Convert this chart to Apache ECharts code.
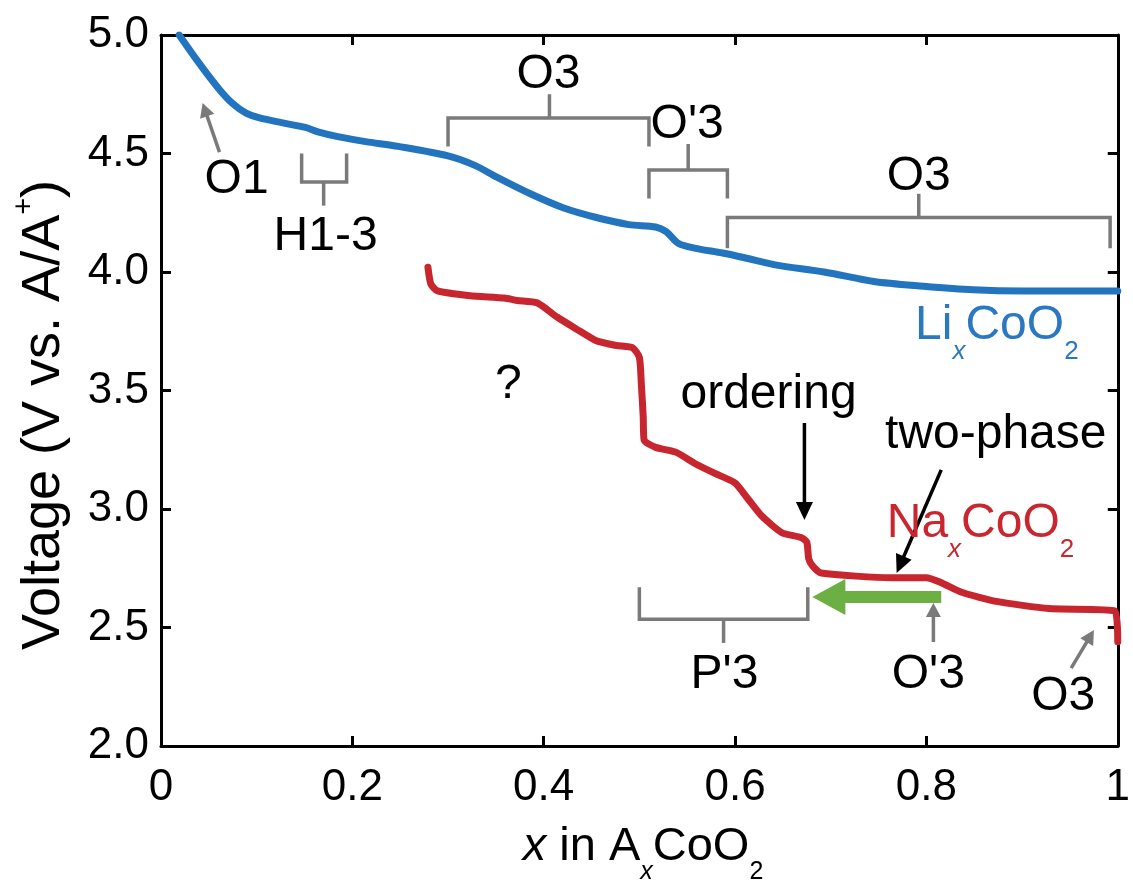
<!DOCTYPE html>
<html>
<head>
<meta charset="utf-8">
<script src="https://cdn.jsdelivr.net/npm/echarts@6/dist/echarts.min.js"></script>
<style>
  html, body { margin: 0; padding: 0; background: #fff; }
  #chart { width: 1133px; height: 881px; }
</style>
</head>
<body>
<div id="chart"></div>
<script>
// ---- charge curves: x in A_xCoO2 vs voltage (V vs. A/A+) ----
const liX = [0.019, 0.040, 0.061, 0.075, 0.089, 0.103, 0.126, 0.151, 0.165, 0.186, 0.214, 0.248, 0.300, 0.328, 0.351, 0.386, 0.421, 0.455, 0.489, 0.517, 0.528, 0.541, 0.559, 0.587, 0.610, 0.642, 0.693, 0.745, 0.797, 0.849, 0.901, 0.952, 1.000];
const liV = [5.00, 4.88, 4.77, 4.71, 4.67, 4.65, 4.63, 4.61, 4.59, 4.57, 4.55, 4.53, 4.49, 4.45, 4.40, 4.33, 4.27, 4.23, 4.20, 4.19, 4.17, 4.12, 4.10, 4.08, 4.06, 4.03, 4.00, 3.96, 3.94, 3.925, 3.92, 3.92, 3.92];

const naX = [0.279, 0.282, 0.289, 0.323, 0.359, 0.372, 0.393, 0.414, 0.434, 0.455, 0.476, 0.493, 0.500, 0.502, 0.504, 0.505, 0.517, 0.538, 0.559, 0.579, 0.600, 0.614, 0.628, 0.649, 0.669, 0.675, 0.677, 0.681, 0.690, 0.763, 0.800, 0.815, 0.836, 0.873, 0.928, 0.997, 1.000];
const naV = [4.02, 3.95, 3.92, 3.90, 3.89, 3.88, 3.87, 3.81, 3.76, 3.71, 3.69, 3.68, 3.64, 3.53, 3.39, 3.29, 3.26, 3.24, 3.19, 3.15, 3.11, 3.04, 2.97, 2.90, 2.88, 2.86, 2.79, 2.76, 2.73, 2.71, 2.71, 2.69, 2.65, 2.61, 2.58, 2.57, 2.44];

// ---- axes ----
const xTickLabels = ['0', '0.2', '0.4', '0.6', '0.8', '1'];
const yTickLabels = ['2.0', '2.5', '3.0', '3.5', '4.0', '4.5', '5.0'];
const xTitle = '~{x} in A_{x}CoO_{2}';
const yTitle = 'Voltage (V vs. A/A^{+})';

// ---- phase brackets: ends, bar level, stem ----
const brX1    = [0.147, 0.300, 0.510, 0.592, 0.500];
const brX2    = [0.194, 0.510, 0.592, 0.992, 0.676];
const brYEnd  = [4.50, 4.53, 4.31, 4.10, 2.67];
const brYBar  = [4.38, 4.65, 4.43, 4.23, 2.535];
const brXStem = [0.170, 0.406, 0.551, 0.792, 0.588];
const brYStem = [4.28, 4.75, 4.54, 4.33, 2.435];

// ---- arrows: tail -> tip ----
const arX1 = [0.0611, 0.6725, 0.8155, 0.8073, 0.9513, 0.8155];
const arY1 = [4.506, 3.363, 3.165, 2.439, 2.329, 2.629];
const arX2 = [0.0435, 0.6725, 0.7689, 0.8073, 0.9751, 0.6808];
const arY2 = [4.713, 2.954, 2.730, 2.603, 2.489, 2.629];
const arKind = ['gray', 'black', 'black', 'gray', 'gray', 'green'];

// ---- text labels ----
const labelText = ['O3', "O'3", 'O3', 'H1-3', 'O1', '?', 'ordering', 'two-phase', "P'3", "O'3", 'O3', 'Li_{x}CoO_{2}', 'Na_{x}CoO_{2}'];
const labelX = [0.405, 0.550, 0.792, 0.172, 0.079, 0.363, 0.635, 0.8725, 0.589, 0.802, 0.943, 0.8736, 0.8565];
const labelY = [4.831, 4.620, 4.401, 4.150, 4.388, 3.523, 3.481, 3.314, 2.302, 2.302, 2.209, 3.774, 2.937];
const labelTone = ['k', 'k', 'k', 'k', 'k', 'k', 'k', 'k', 'k', 'k', 'k', 'li', 'na'];

// ---- styling ----
const FONT = '"Liberation Sans", Arial, Helvetica, sans-serif';
const BLUE = '#2174bd';
const RED = '#c7262f';
const GRAY = '#7a7a7a';
const TONE = { k: '#000', li: '#2a78c2', na: '#c9262f' };
const ARROW_STYLE = {
  gray:  { color: GRAY,   w: 3.5, hl: 14, hw: 15 },
  black: { color: '#000', w: 3.5, hl: 18, hw: 17 },
  green: { color: '#6cb043', w: 12, hl: 33, hw: 36 }
};
const LABEL_SIZE = 48;
const TICK_SIZE = 44;

// text runs with sub/superscripts, laid out with measured widths
const measureCtx = document.createElement('canvas').getContext('2d');
function fontStr(size, italic) { return (italic ? 'italic ' : '') + size + 'px ' + FONT; }
function textWidth(t, size, italic) { measureCtx.font = fontStr(size, italic); return measureCtx.measureText(t).width; }
function parseRuns(s) {
  const out = [];
  const re = /([_^~])\{([^}]*)\}|([^_^~]+)/g;
  let m;
  while ((m = re.exec(s))) {
    if (m[3]) out.push({ t: m[3], kind: '', it: false });
    else if (m[1] === '~') out.push({ t: m[2], kind: '', it: true });
    else out.push({ t: m[2], kind: m[1] === '_' ? 'sub' : 'sup', it: /^[a-z]$/.test(m[2]) });
  }
  return out;
}
function runElements(str, cx, cy, size, color) {
  const pieces = parseRuns(str).map(r => {
    const fs = r.kind ? Math.round(size * 0.54) : size;
    return Object.assign({}, r, { fs: fs, w: textWidth(r.t, fs, r.it) });
  });
  const total = pieces.reduce((a, p) => a + p.w, 0);
  let x = cx - total / 2;
  return pieces.map(p => {
    const dy = p.kind === 'sub' ? size * 0.54 : (p.kind === 'sup' ? -size * 0.36 : 0);
    const el = {
      type: 'text', x: x, y: cy + dy, silent: true,
      style: { text: p.t, font: fontStr(p.fs, p.it), fill: color,
               align: 'left', verticalAlign: 'middle', textAlign: 'left', textVerticalAlign: 'middle' }
    };
    x += p.w;
    return el;
  });
}

const liData = liX.map((x, i) => [x, liV[i]]);
const naData = naX.map((x, i) => [x, naV[i]]);
const bracketData = brX1.map((x, i) => [x, brX2[i], brYEnd[i], brYBar[i], brXStem[i], brYStem[i]]);
const arrowData = arX1.map((x, i) => [x, arY1[i], arX2[i], arY2[i], i]);
const labelData = labelX.map((x, i) => [x, labelY[i], i]);

const axisLine = { show: true, onZero: false, lineStyle: { color: '#000', width: 3 } };
const axisTick = { show: true, inside: true, length: 10, lineStyle: { color: '#000', width: 3 } };

const chart = echarts.init(document.getElementById('chart'));
chart.setOption({
  animation: false,
  backgroundColor: '#fff',
  grid: { left: 161, right: 7, top: 35, bottom: 135, containLabel: false },
  xAxis: [
    { type: 'value', min: 0, max: 1, interval: 0.2, position: 'bottom',
      axisLine: axisLine, axisTick: axisTick, splitLine: { show: false },
      axisLabel: { color: '#000', fontSize: TICK_SIZE, fontFamily: FONT, margin: 20,
                   formatter: v => xTickLabels[Math.round(v / 0.2)] } },
    { type: 'value', min: 0, max: 1, interval: 0.2, position: 'top',
      axisLine: axisLine, axisTick: axisTick, splitLine: { show: false }, axisLabel: { show: false } }
  ],
  yAxis: [
    { type: 'value', min: 2, max: 5, interval: 0.5, position: 'left',
      axisLine: axisLine, axisTick: axisTick, splitLine: { show: false },
      axisLabel: { color: '#000', fontSize: TICK_SIZE, fontFamily: FONT, margin: 12,
                   formatter: v => yTickLabels[Math.round((v - 2) / 0.5)] } },
    { type: 'value', min: 2, max: 5, interval: 0.5, position: 'right',
      axisLine: axisLine, axisTick: axisTick, splitLine: { show: false }, axisLabel: { show: false } }
  ],
  graphic: [
    { type: 'group', x: 643, y: 847, silent: true, children: runElements(xTitle, 0, 0, 47, '#000') },
    { type: 'group', x: 44, y: 415, rotation: Math.PI / 2, silent: true, children: runElements(yTitle, 0, 0, 54, '#000') }
  ],
  series: [
    {
      name: 'brackets', type: 'custom', silent: true, z: 2,
      data: bracketData,
      encode: { x: [0, 1, 4], y: [2, 3, 5] },
      renderItem: (params, api) => {
        const a = api.coord([api.value(0), api.value(2)]);
        const b = api.coord([api.value(0), api.value(3)]);
        const c = api.coord([api.value(1), api.value(3)]);
        const d = api.coord([api.value(1), api.value(2)]);
        const s0 = api.coord([api.value(4), api.value(3)]);
        const s1 = api.coord([api.value(4), api.value(5)]);
        return { type: 'group', children: [
          { type: 'polyline', shape: { points: [a, b, c, d] }, style: { stroke: GRAY, lineWidth: 3.5, fill: null } },
          { type: 'line', shape: { x1: s0[0], y1: s0[1], x2: s1[0], y2: s1[1] }, style: { stroke: GRAY, lineWidth: 3.5 } }
        ] };
      }
    },
    {
      name: 'LixCoO2', type: 'line', data: liData, showSymbol: false, symbol: 'none',
      smooth: 0.3, z: 3,
      lineStyle: { color: BLUE, width: 7, cap: 'round', join: 'round' }
    },
    {
      name: 'NaxCoO2', type: 'line', data: naData, showSymbol: false, symbol: 'none',
      smooth: 0.2, z: 3,
      lineStyle: { color: RED, width: 7, cap: 'round', join: 'round' }
    },
    {
      name: 'arrows', type: 'custom', silent: true, z: 4,
      data: arrowData,
      encode: { x: [0, 2], y: [1, 3] },
      renderItem: (params, api) => {
        const st = ARROW_STYLE[arKind[api.value(4)]];
        const p0 = api.coord([api.value(0), api.value(1)]);
        const p1 = api.coord([api.value(2), api.value(3)]);
        const dx = p1[0] - p0[0], dy = p1[1] - p0[1];
        const len = Math.sqrt(dx * dx + dy * dy);
        const ux = dx / len, uy = dy / len, nx = -uy, ny = ux;
        const bx = p1[0] - ux * st.hl, by = p1[1] - uy * st.hl;
        return { type: 'group', children: [
          { type: 'line', shape: { x1: p0[0], y1: p0[1], x2: bx + ux * 2, y2: by + uy * 2 },
            style: { stroke: st.color, lineWidth: st.w } },
          { type: 'polygon', shape: { points: [[p1[0], p1[1]], [bx + nx * st.hw / 2, by + ny * st.hw / 2], [bx - nx * st.hw / 2, by - ny * st.hw / 2]] },
            style: { fill: st.color } }
        ] };
      }
    },
    {
      name: 'labels', type: 'custom', silent: true, z: 5,
      data: labelData,
      encode: { x: 0, y: 1 },
      renderItem: (params, api) => {
        const i = api.value(2);
        const p = api.coord([api.value(0), api.value(1)]);
        return { type: 'group', children: runElements(labelText[i], p[0], p[1], LABEL_SIZE, TONE[labelTone[i]]) };
      }
    }
  ]
});
</script>
</body>
</html>
